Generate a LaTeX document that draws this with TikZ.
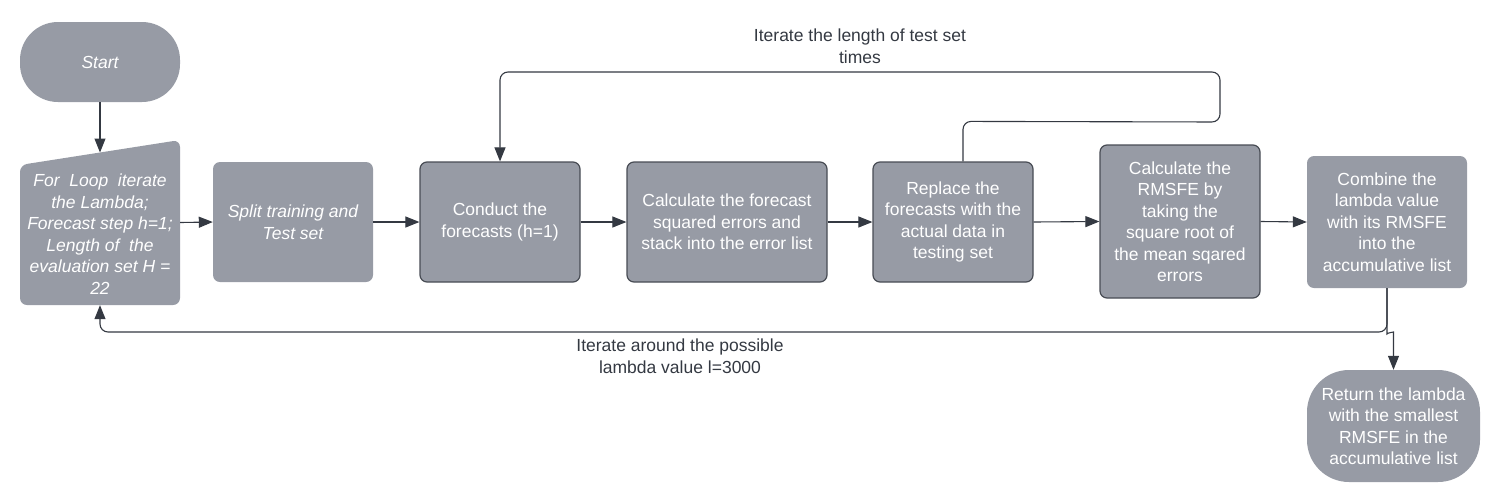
\documentclass[tikz,border=0pt]{standalone}
\usepackage{fontspec}
\setmainfont{Liberation Sans}
\usetikzlibrary{arrows.meta}
\definecolor{boxfill}{RGB}{151,155,165}
\definecolor{linec}{RGB}{52,57,66}
\definecolor{edgec}{RGB}{72,76,84}
\begin{document}
\begin{tikzpicture}[x=1pt,y=-1pt,
  box/.style={fill=boxfill, rounded corners=7pt, text=white, align=center,
    font=\fontsize{17.5}{21.5}\selectfont, inner sep=0pt},
  obox/.style={box, draw=edgec, line width=1.2pt},
  conn/.style={draw=linec, line width=1.1pt, rounded corners=8pt},
  arr/.style={conn, -{Triangle[length=14pt,width=11pt]}},
  lbl/.style={text=linec, align=center, font=\fontsize{17.5}{22}\selectfont, inner sep=0pt}]
\useasboundingbox (0,0) rectangle (1489,496);

% Start
\node[box, minimum width=160pt, minimum height=80pt, rounded corners=38pt] (start) at (100,62) {\itshape Start};

% Manual input shape
\fill[boxfill, rounded corners=7pt] (20,165) -- (180,140) -- (180,305) -- (20,305) -- cycle;
\node[minimum width=160pt, minimum height=165pt, inner sep=0pt] (inp) at (100,222.5) {};
\node[box, fill=none] (inptext) at (100,234) {\itshape For\ \ Loop\ \ iterate\\\itshape the Lambda;\\\itshape Forecast step h=1;\\\itshape Length of\ \ the\\\itshape evaluation set H =\\\itshape 22};
\coordinate (intop) at (100,152.5);

% Process boxes
\node[box, minimum width=160pt, minimum height=120pt] (split) at (293,222) {\itshape Split training and\\\itshape Test set};
\node[obox, minimum width=160pt, minimum height=120pt] (cond) at (500,222) {Conduct the\\forecasts (h=1)};
\node[obox, minimum width=200pt, minimum height=120pt] (calc) at (727,222) {Calculate the forecast\\squared errors and\\stack into the error list};
\node[obox, minimum width=160pt, minimum height=120pt] (rep) at (953,222) {Replace the\\forecasts with the\\actual data in\\testing set};
\node[obox, minimum width=160pt, minimum height=153pt] (rmsfe) at (1180,221.5) {Calculate the\\RMSFE by\\taking the\\square root of\\the mean sqared\\errors};
\node[box, minimum width=160pt, minimum height=132pt] (comb) at (1387,222) {Combine the\\lambda value\\with its RMSFE\\into the\\accumulative list};
\node[box, minimum width=173pt, minimum height=112pt, rounded corners=42pt] (ret) at (1393.5,426) {Return the lambda\\with the smallest\\RMSFE in the\\accumulative list};

% Labels
\node[lbl] (toplbl) at (860,46) {Iterate the length of test set\\times};
\node[lbl] (botlbl) at (680,356) {Iterate around the possible\\lambda value l=3000};

% Connectors
\draw[arr] (start.south) -- (intop);
\draw[arr] (inp.east) -- (split.west);
\draw[arr] (split.east) -- (cond.west);
\draw[arr] (cond.east) -- (calc.west);
\draw[arr] (calc.east) -- (rep.west);
\draw[arr] (rep.east) -- (rmsfe.west);
\draw[arr] (rmsfe.east) -- (comb.west);
\draw[arr] ([xshift=10pt]rep.north) -- ++(0,-40) -- (1220,122) -- (1220,72) -- (500,72) -- (cond.north);
\draw[arr] (comb.south) -- (1387,332) -- (100,332) -- (inp.south);
\draw[arr] (comb.south) -- (1387,326) .. controls (1387,333) and (1393.5,332) .. (1393.5,340) -- (ret.north);
\end{tikzpicture}
\end{document}
